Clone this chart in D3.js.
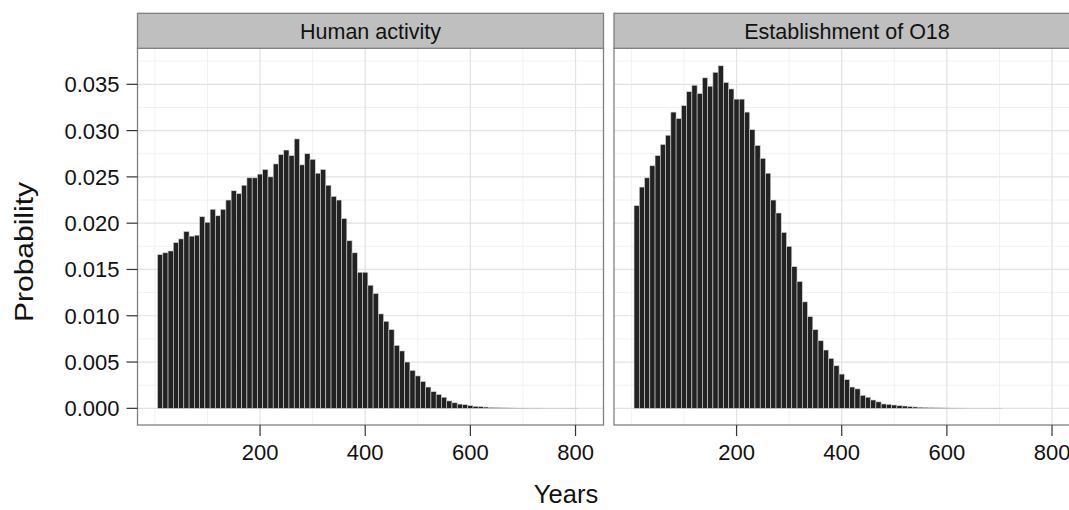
<!DOCTYPE html>
<html>
<head>
<meta charset="utf-8">
<script src="https://cdn.jsdelivr.net/npm/d3@7"></script>
<style>
  body { margin: 0; background: #fff; }
  svg { display: block; font-family: Helvetica, Arial, "Liberation Sans", sans-serif; }
</style>
</head>
<body>
<svg width="1069" height="510"></svg>
<script>
// panel titles
const panels = ["Human activity", "Establishment of O18"]

// probability per 10-year bin, bins centred on 10, 20, 30 ... years
const humanActivity = [
  0.0166, 0.0168, 0.0170, 0.0179, 0.0183, 0.0191, 0.0186, 0.0187, 0.0207, 0.0201,
  0.0215, 0.0208, 0.0215, 0.0225, 0.0235, 0.0232, 0.0241, 0.0249, 0.0249, 0.0253,
  0.0258, 0.0250, 0.0264, 0.0274, 0.0279, 0.0273, 0.0291, 0.0263, 0.0275, 0.0269,
  0.0254, 0.0258, 0.0241, 0.0229, 0.0225, 0.0205, 0.0181, 0.0168, 0.0147, 0.0147,
  0.0133, 0.0124, 0.0102, 0.0094, 0.0085, 0.0068, 0.0062, 0.0050, 0.0041, 0.0035,
  0.0029, 0.0023, 0.0018, 0.0015, 0.0012, 0.0008, 0.0006, 0.00046, 0.0004, 0.0003,
  0.00022, 0.00018, 0.00014, 0.0001, 0.00008, 0.00006, 0.00005, 0.00004, 0.00003, 0.00003,
  0.00002, 0.00002, 0.00002, 0.00001, 0.00001, 0.00001, 0.00001, 0.00001, 0.00001, 0.00001
]
const establishmentO18 = [
  0.0219, 0.0239, 0.0249, 0.0262, 0.0273, 0.0285, 0.0295, 0.0320, 0.0313, 0.0327,
  0.0342, 0.0349, 0.0340, 0.0357, 0.0348, 0.0363, 0.0370, 0.0352, 0.0345, 0.0334,
  0.0334, 0.0320, 0.0301, 0.0284, 0.0270, 0.0254, 0.0225, 0.0211, 0.0190, 0.0175,
  0.0153, 0.0137, 0.0115, 0.0099, 0.0085, 0.0073, 0.0063, 0.0054, 0.0046, 0.0037,
  0.0031, 0.0023, 0.0021, 0.0014, 0.0012, 0.0009, 0.0007, 0.00047, 0.00043, 0.00036,
  0.00029, 0.00025, 0.0002, 0.00015, 0.00012, 0.0001, 0.00008, 0.00006, 0.00005, 0.00004,
  0.00003, 0.00002, 0.00002, 0.00001, 0.00001, 0.00001, 0.00001, 0.00001, 0.00001, 0.00001
]
const series = [humanActivity, establishmentO18]
const binWidth = 10

const xTicks = [200, 400, 600, 800]
const xMinor = [0, 100, 300, 500, 700]
const yTicks = [0, 0.005, 0.010, 0.015, 0.020, 0.025, 0.030, 0.035]
const yMinor = [0.0025, 0.0075, 0.0125, 0.0175, 0.0225, 0.0275, 0.0325, 0.0375]

const svg = d3.select("svg")

const panelW = 466
const panelLeft = [137.5, 614]
const stripTop = 13.3, stripBottom = 48.3, panelBottom = 425

const y = d3.scaleLinear().domain([-0.0018, 0.03889]).range([panelBottom, stripBottom])
const x = d3.scaleLinear().domain([-33.1, 853.2]).range([0, panelW])

panels.forEach((title, p) => {
  const g = svg.append("g").attr("transform", `translate(${panelLeft[p]},0)`)

  // minor grid
  g.selectAll(".xmin").data(xMinor).join("line")
    .attr("x1", d => x(d)).attr("x2", d => x(d))
    .attr("y1", stripBottom).attr("y2", panelBottom)
    .style("stroke", "#f1f1f1").style("stroke-width", 1)
  g.selectAll(".ymin").data(yMinor).join("line")
    .attr("x1", 0).attr("x2", panelW)
    .attr("y1", d => y(d)).attr("y2", d => y(d))
    .style("stroke", "#f1f1f1").style("stroke-width", 1)

  // major grid
  g.selectAll(".xmaj").data(xTicks).join("line")
    .attr("x1", d => x(d)).attr("x2", d => x(d))
    .attr("y1", stripBottom).attr("y2", panelBottom)
    .style("stroke", "#e2e2e2").style("stroke-width", 1.2)
  g.selectAll(".ymaj").data(yTicks).join("line")
    .attr("x1", 0).attr("x2", panelW)
    .attr("y1", d => y(d)).attr("y2", d => y(d))
    .style("stroke", "#e2e2e2").style("stroke-width", 1.2)

  // bars
  g.selectAll("rect.bar")
    .data(series[p])
    .join("rect")
    .attr("class", "bar")
    .attr("x", (d, i) => x((i + 1) * binWidth - binWidth / 2))
    .attr("width", x(binWidth) - x(0))
    .attr("y", d => y(d))
    .attr("height", d => y(0) - y(d))
    .style("fill", "#222")
    .style("stroke", "#d4d4d4")
    .style("stroke-width", 0.6)

  // panel border
  g.append("rect")
    .attr("x", 0).attr("y", stripBottom)
    .attr("width", panelW).attr("height", panelBottom - stripBottom)
    .style("fill", "none").style("stroke", "#808080").style("stroke-width", 1.3)

  // strip
  g.append("rect")
    .attr("x", 0).attr("y", stripTop)
    .attr("width", panelW).attr("height", stripBottom - stripTop)
    .style("fill", "#bfbfbf").style("stroke", "#808080").style("stroke-width", 1.3)
  g.append("text")
    .attr("x", panelW / 2).attr("y", 38.5)
    .attr("text-anchor", "middle")
    .style("font-size", "21.5px").style("fill", "#111")
    .text(title)

  // x axis
  const xa = g.append("g").attr("transform", `translate(0,${panelBottom})`)
  xa.selectAll("line").data(xTicks).join("line")
    .attr("x1", d => x(d)).attr("x2", d => x(d))
    .attr("y1", 0).attr("y2", 11)
    .style("stroke", "#333").style("stroke-width", 1.2)
  xa.selectAll("text").data(xTicks).join("text")
    .attr("x", d => x(d)).attr("y", 35)
    .attr("text-anchor", "middle")
    .style("font-size", "22px").style("fill", "#111")
    .text(d => d)
})

// y axis on the left panel
const ya = svg.append("g").attr("transform", `translate(${panelLeft[0]},0)`)
ya.selectAll("line").data(yTicks).join("line")
  .attr("x1", -11).attr("x2", 0)
  .attr("y1", d => y(d)).attr("y2", d => y(d))
  .style("stroke", "#333").style("stroke-width", 1.2)
ya.selectAll("text").data(yTicks).join("text")
  .attr("x", -18).attr("y", d => y(d))
  .attr("dy", "0.36em")
  .attr("text-anchor", "end")
  .style("font-size", "22px").style("fill", "#111")
  .text(d => d3.format(".3f")(d))

// axis titles
svg.append("text")
  .attr("x", 566).attr("y", 503)
  .attr("text-anchor", "middle")
  .style("font-size", "25.5px").style("fill", "#111")
  .text("Years")

svg.append("text")
  .attr("transform", "translate(33,252) rotate(-90)")
  .attr("text-anchor", "middle")
  .attr("textLength", 140)
  .attr("lengthAdjust", "spacingAndGlyphs")
  .style("font-size", "26px").style("fill", "#111")
  .text("Probability")
</script>
</body>
</html>
